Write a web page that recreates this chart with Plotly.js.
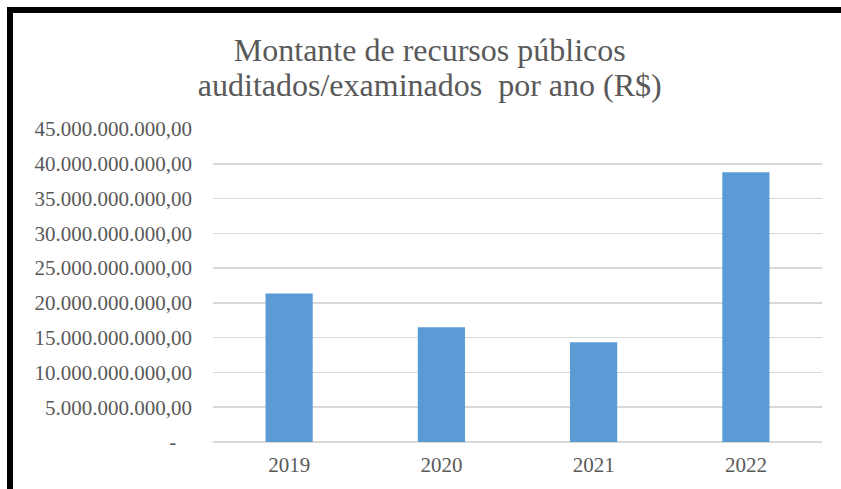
<!DOCTYPE html>
<html>
<head>
<meta charset="utf-8">
<script src="https://cdn.plot.ly/plotly-3.0.1.min.js"></script>
<style>
html,body{margin:0;padding:0;background:#fff;}
#wrap{position:absolute;left:0;top:0;width:841px;height:489px;}
#frame{position:absolute;left:7px;top:7px;width:834px;height:482px;border-left:6px solid #000;border-top:6px solid #000;box-sizing:border-box;pointer-events:none;}
#chart{position:absolute;left:0;top:0;width:841px;height:489px;}
</style>
</head>
<body>
<div id="wrap">
<div id="chart"></div>
<div id="frame"></div>
</div>
<script>
const years = ['2019', '2020', '2021', '2022'];
const amounts = [21.35e9, 16.5e9, 14.34e9, 38.77e9];
const tickValues = [0, 5e9, 10e9, 15e9, 20e9, 25e9, 30e9, 35e9, 40e9, 45e9];
const tickLabels = ['-\u00a0\u00a0\u00a0', '5.000.000.000,00', '10.000.000.000,00', '15.000.000.000,00',
  '20.000.000.000,00', '25.000.000.000,00', '30.000.000.000,00', '35.000.000.000,00',
  '40.000.000.000,00', '45.000.000.000,00'];
const titleLines = ['Montante de recursos públicos', 'auditados/examinados  por ano (R$)'];

const font = "'Liberation Serif', 'Times New Roman', serif";
const titleText = titleLines.map(s => '<span style="font-size:32px">' + s + '</span>').join('<br>');
Plotly.newPlot('chart', [{
  type: 'bar',
  x: years,
  y: amounts,
  marker: {color: '#5b9bd5', line: {width: 0}},
  hoverinfo: 'none'
}], {
  width: 841, height: 489,
  margin: {l: 213, r: 19, t: 129, b: 47},
  paper_bgcolor: '#ffffff', plot_bgcolor: '#ffffff',
  bargap: 0.69,
  showlegend: false,
  title: {
    text: titleText,
    font: {family: font, size: 27, color: '#595959'},
    x: 0.511, xref: 'container', xanchor: 'center',
    y: 0.876, yref: 'container', yanchor: 'middle'
  },
  xaxis: {
    type: 'category',
    tickfont: {family: font, size: 21, color: '#595959'},
    showgrid: false, zeroline: false, showline: false,
    ticks: '', ticklabelstandoff: 8
  },
  yaxis: {
    range: [0, 45e9],
    tickvals: tickValues, ticktext: tickLabels,
    tickfont: {family: font, size: 21, color: '#595959'},
    showgrid: true, gridcolor: '#d9d9d9', gridwidth: 1.5,
    zeroline: true, zerolinecolor: '#d9d9d9', zerolinewidth: 1.5,
    showline: false, ticks: '', ticklabelstandoff: 20
  }
}, {displayModeBar: false, staticPlot: true});
</script>
</body>
</html>
